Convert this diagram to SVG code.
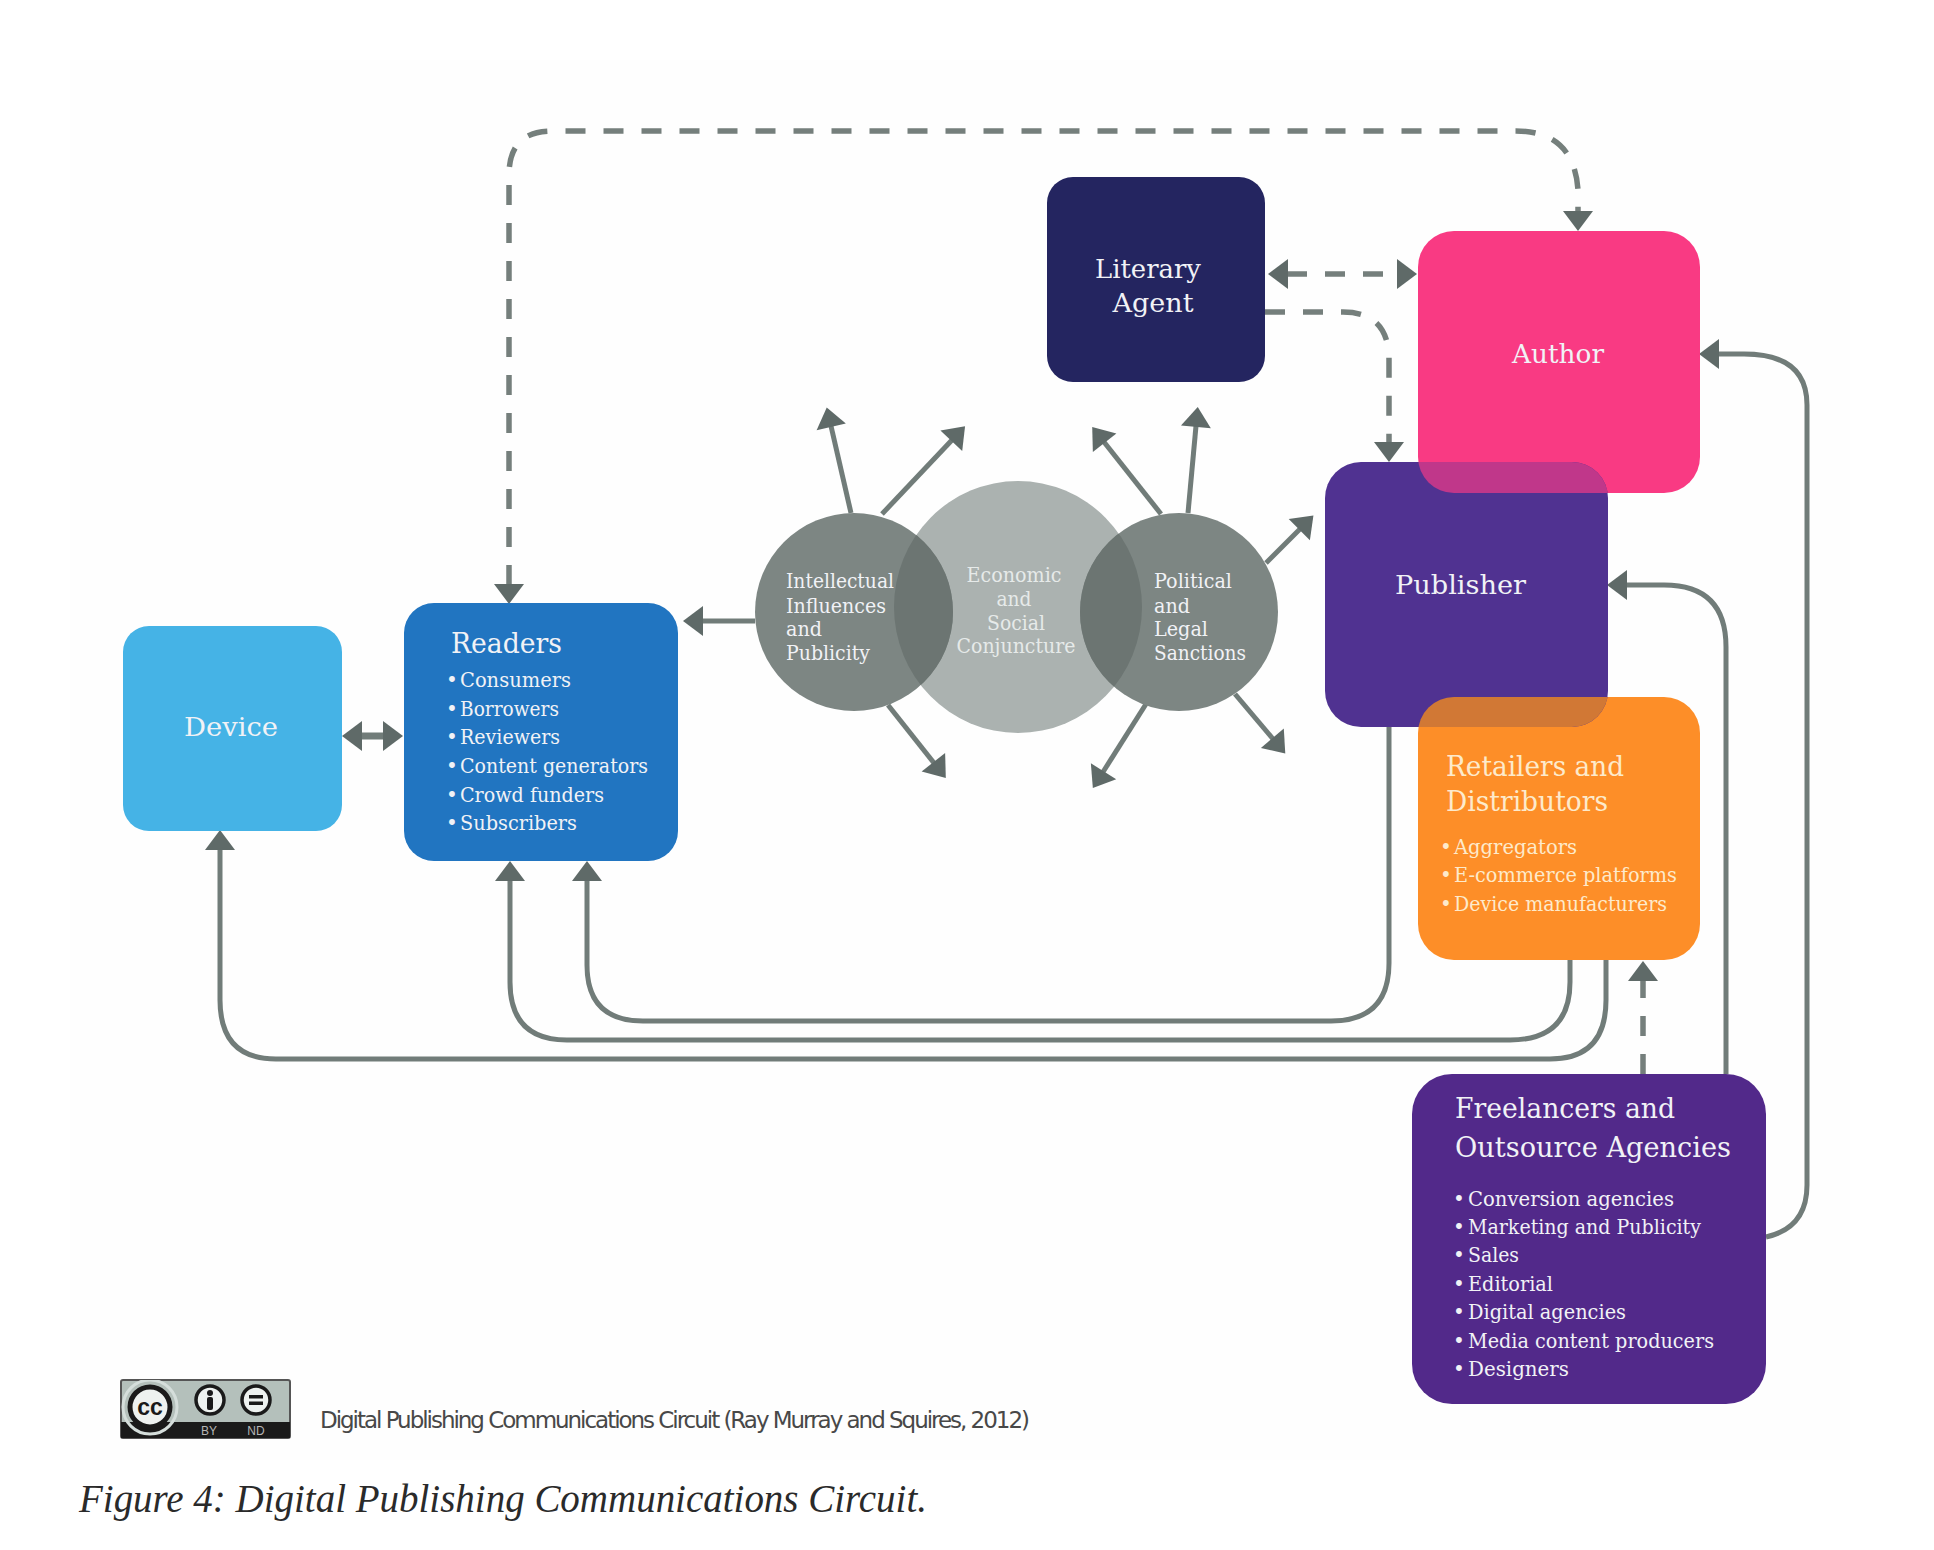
<svg xmlns="http://www.w3.org/2000/svg" width="1934" height="1550" viewBox="0 0 1934 1550">
<style>
.s{fill:none;stroke:#717c79;stroke-width:5}
.d{fill:none;stroke:#757f7c;stroke-width:5.5;stroke-dasharray:20 18}
.a{marker-end:url(#h)}
.b{marker-start:url(#hs);marker-end:url(#h)}
text{font-family:"DejaVu Serif","Liberation Serif",serif;fill:#f1f2f6}
.h{font-size:27px}
.m{font-size:26px}
.l{font-size:20px}
.c{text-anchor:middle}
.o text{fill:#fdeacb}
.e text{fill:#e6eae9}
</style>
<defs>
<marker id="h" markerUnits="userSpaceOnUse" markerWidth="24" markerHeight="32" viewBox="0 0 20 32" refX="1" refY="16" orient="auto"><path d="M0 1L20 16L0 31Z" fill="#5f6a68"/></marker>
<marker id="hs" markerUnits="userSpaceOnUse" markerWidth="24" markerHeight="32" viewBox="0 0 20 32" refX="19" refY="16" orient="auto"><path d="M20 1L0 16L20 31Z" fill="#5f6a68"/></marker>
<clipPath id="cAuthor"><rect x="1418" y="231" width="282" height="262" rx="36"/></clipPath>
<clipPath id="cRetail"><rect x="1418" y="697" width="282" height="263" rx="36"/></clipPath>
<clipPath id="cEco"><ellipse cx="1018" cy="607" rx="124" ry="126"/></clipPath>
<clipPath id="cBadge"><rect x="121" y="1380" width="169" height="58"/></clipPath>
</defs>
<rect id="page" x="70" y="60" width="1780" height="1400" fill="#fefefe"/>
<g id="connectors">
<path class="d b" d="M509 585V175Q509 131 552 131H1516Q1574 131 1578 190V212"/>
<path class="d b" d="M1287 274H1398"/>
<path class="d a" d="M1265 312H1343Q1389 312 1389 360V443"/>
<path class="d a" d="M1643 1074V980"/>
<path class="s a" d="M755 621H702"/>
<path class="s b" style="stroke-width:7" d="M361 736H384"/>
<path class="s a" d="M851 513L831 426"/>
<path class="s a" d="M882 514L952 440"/>
<path class="s a" d="M888 705L934 763"/>
<path class="s a" d="M1161 514L1104 442"/>
<path class="s a" d="M1188 513L1196 426"/>
<path class="s a" d="M1266 563L1300 529"/>
<path class="s a" d="M1146 704L1103 772"/>
<path class="s a" d="M1235 694L1273 739"/>
<path class="s a" d="M1389 727V963Q1389 1021 1331 1021H643Q587 1021 587 965V880"/>
<path class="s a" d="M1570 960V982Q1570 1040 1510 1040H567Q510 1040 510 982V880"/>
<path class="s a" d="M1606 960V1000Q1606 1059 1550 1059H276Q220 1059 220 1000V849"/>
<path class="s a" d="M1726 1074V647Q1726 585 1664 585H1626"/>
<path class="s a" d="M1766 1237Q1807 1228 1807 1185V405Q1807 354 1744 354H1718"/>
</g>
<g id="economic">
<ellipse cx="1018" cy="607" rx="124" ry="126" fill="#abb2b0"/>
</g>
<g id="intellectual">
<circle cx="854" cy="612" r="99" fill="#7d8683"/>
<circle cx="854" cy="612" r="99" fill="#6c7572" clip-path="url(#cEco)"/>
<text class="l" x="786" y="588" textLength="108" lengthAdjust="spacingAndGlyphs">Intellectual</text>
<text class="l" x="786" y="613" textLength="100" lengthAdjust="spacingAndGlyphs">Influences</text>
<text class="l" x="786" y="636" textLength="36" lengthAdjust="spacingAndGlyphs">and</text>
<text class="l" x="786" y="660" textLength="84" lengthAdjust="spacingAndGlyphs">Publicity</text>
</g>
<g id="political">
<circle cx="1179" cy="612" r="99" fill="#7d8683"/>
<circle cx="1179" cy="612" r="99" fill="#6c7572" clip-path="url(#cEco)"/>
<text class="l" x="1154" y="588" textLength="78" lengthAdjust="spacingAndGlyphs">Political</text>
<text class="l" x="1154" y="613" textLength="36" lengthAdjust="spacingAndGlyphs">and</text>
<text class="l" x="1154" y="636" textLength="54" lengthAdjust="spacingAndGlyphs">Legal</text>
<text class="l" x="1154" y="660" textLength="92" lengthAdjust="spacingAndGlyphs">Sanctions</text>
</g>
<g id="economic-label" class="e">
<text class="l c" x="1014" y="582" textLength="95" lengthAdjust="spacingAndGlyphs">Economic</text>
<text class="l c" x="1014" y="606" textLength="35" lengthAdjust="spacingAndGlyphs">and</text>
<text class="l c" x="1016" y="630" textLength="58" lengthAdjust="spacingAndGlyphs">Social</text>
<text class="l c" x="1016" y="653" textLength="119" lengthAdjust="spacingAndGlyphs">Conjuncture</text>
</g>
<g id="device">
<rect x="123" y="626" width="219" height="205" rx="26" fill="#45b3e6"/>
<text class="m" x="184" y="736" textLength="94" lengthAdjust="spacingAndGlyphs">Device</text>
</g>
<g id="readers">
<rect x="404" y="603" width="274" height="258" rx="30" fill="#2175c1"/>
<text class="h" x="451" y="653" textLength="111" lengthAdjust="spacingAndGlyphs">Readers</text>
<text class="l" y="687"><tspan x="446">•</tspan><tspan x="460" textLength="111" lengthAdjust="spacingAndGlyphs">Consumers</tspan></text>
<text class="l" y="716"><tspan x="446">•</tspan><tspan x="460" textLength="99" lengthAdjust="spacingAndGlyphs">Borrowers</tspan></text>
<text class="l" y="744"><tspan x="446">•</tspan><tspan x="460" textLength="100" lengthAdjust="spacingAndGlyphs">Reviewers</tspan></text>
<text class="l" y="773"><tspan x="446">•</tspan><tspan x="460" textLength="188" lengthAdjust="spacingAndGlyphs">Content generators</tspan></text>
<text class="l" y="802"><tspan x="446">•</tspan><tspan x="460" textLength="144" lengthAdjust="spacingAndGlyphs">Crowd funders</tspan></text>
<text class="l" y="830"><tspan x="446">•</tspan><tspan x="460" textLength="117" lengthAdjust="spacingAndGlyphs">Subscribers</tspan></text>
</g>
<g id="literary-agent">
<rect x="1047" y="177" width="218" height="205" rx="26" fill="#242560"/>
<text class="m c" x="1148" y="278" textLength="106" lengthAdjust="spacingAndGlyphs">Literary</text>
<text class="m c" x="1153" y="312" textLength="81" lengthAdjust="spacingAndGlyphs">Agent</text>
</g>
<g id="author">
<rect x="1418" y="231" width="282" height="262" rx="36" fill="#f93a83"/>
<text class="m" x="1512" y="363" textLength="92" lengthAdjust="spacingAndGlyphs">Author</text>
</g>
<g id="retailers" class="o">
<rect x="1418" y="697" width="282" height="263" rx="36" fill="#fd8e28"/>
</g>
<g id="publisher">
<rect x="1325" y="462" width="283" height="265" rx="36" fill="#503291"/>
<rect x="1325" y="462" width="283" height="265" rx="36" fill="#c0378a" clip-path="url(#cAuthor)"/>
<rect x="1325" y="462" width="283" height="265" rx="36" fill="#d17835" clip-path="url(#cRetail)"/>
<text class="m" x="1395" y="594" textLength="131" lengthAdjust="spacingAndGlyphs">Publisher</text>
</g>
<g id="retailers-label" class="o">
<text class="h" x="1446" y="776" textLength="178" lengthAdjust="spacingAndGlyphs">Retailers and</text>
<text class="h" x="1446" y="811" textLength="162" lengthAdjust="spacingAndGlyphs">Distributors</text>
<text class="l" y="854"><tspan x="1440">•</tspan><tspan x="1454" textLength="123" lengthAdjust="spacingAndGlyphs">Aggregators</tspan></text>
<text class="l" y="882"><tspan x="1440">•</tspan><tspan x="1454" textLength="223" lengthAdjust="spacingAndGlyphs">E-commerce platforms</tspan></text>
<text class="l" y="911"><tspan x="1440">•</tspan><tspan x="1454" textLength="213" lengthAdjust="spacingAndGlyphs">Device manufacturers</tspan></text>
</g>
<g id="freelancers">
<rect x="1412" y="1074" width="354" height="330" rx="40" fill="#52298a"/>
<text class="h" x="1455" y="1118" textLength="220" lengthAdjust="spacingAndGlyphs">Freelancers and</text>
<text class="h" x="1455" y="1157" textLength="276" lengthAdjust="spacingAndGlyphs">Outsource Agencies</text>
<text class="l" y="1206"><tspan x="1453">•</tspan><tspan x="1468" textLength="206" lengthAdjust="spacingAndGlyphs">Conversion agencies</tspan></text>
<text class="l" y="1234"><tspan x="1453">•</tspan><tspan x="1468" textLength="233" lengthAdjust="spacingAndGlyphs">Marketing and Publicity</tspan></text>
<text class="l" y="1262"><tspan x="1453">•</tspan><tspan x="1468" textLength="51" lengthAdjust="spacingAndGlyphs">Sales</tspan></text>
<text class="l" y="1291"><tspan x="1453">•</tspan><tspan x="1468" textLength="85" lengthAdjust="spacingAndGlyphs">Editorial</tspan></text>
<text class="l" y="1319"><tspan x="1453">•</tspan><tspan x="1468" textLength="158" lengthAdjust="spacingAndGlyphs">Digital agencies</tspan></text>
<text class="l" y="1348"><tspan x="1453">•</tspan><tspan x="1468" textLength="246" lengthAdjust="spacingAndGlyphs">Media content producers</tspan></text>
<text class="l" y="1376"><tspan x="1453">•</tspan><tspan x="1468" textLength="101" lengthAdjust="spacingAndGlyphs">Designers</tspan></text>
</g>
<g id="licence-badge">
<rect x="121" y="1380" width="169" height="58" rx="2" fill="#b4c0bb" stroke="#555" stroke-width="2"/>
<rect x="121" y="1422" width="169" height="16" fill="#1a1a1a"/>
<circle cx="150" cy="1407" r="27" fill="none" stroke="#d5dedb" stroke-width="3" clip-path="url(#cBadge)"/>
<circle cx="150" cy="1407" r="20" fill="#eef2f0" stroke="#1a1a1a" stroke-width="5"/>
<text x="150" y="1415" font-size="23" font-weight="bold" text-anchor="middle" style="font-family:'Liberation Sans',sans-serif;fill:#1a1a1a">cc</text>
<circle cx="210" cy="1400" r="14" fill="#eef2f0" stroke="#1a1a1a" stroke-width="3.5"/>
<circle cx="210" cy="1393" r="3" fill="#1a1a1a"/>
<rect x="207" y="1397" width="6" height="13" rx="2" fill="#1a1a1a"/>
<circle cx="256" cy="1400" r="14" fill="#eef2f0" stroke="#1a1a1a" stroke-width="3.5"/>
<rect x="249" y="1395" width="14" height="3.5" fill="#1a1a1a"/>
<rect x="249" y="1401.5" width="14" height="3.5" fill="#1a1a1a"/>
<text x="209" y="1435" font-size="12" text-anchor="middle" style="font-family:'Liberation Sans',sans-serif;fill:#b5b5b5">BY</text>
<text x="256" y="1435" font-size="12" text-anchor="middle" style="font-family:'Liberation Sans',sans-serif;fill:#b5b5b5">ND</text>
</g>
<text id="credit" x="320" y="1428" font-size="23" textLength="710" lengthAdjust="spacing" style="font-family:'DejaVu Sans',sans-serif;fill:#484848">Digital Publishing Communications Circuit (Ray Murray and Squires, 2012)</text>
<text id="caption" x="79" y="1512" font-size="40" font-style="italic" textLength="848" lengthAdjust="spacingAndGlyphs" style="font-family:'Liberation Serif',serif;fill:#2a2a2a">Figure 4: Digital Publishing Communications Circuit.</text>
</svg>
